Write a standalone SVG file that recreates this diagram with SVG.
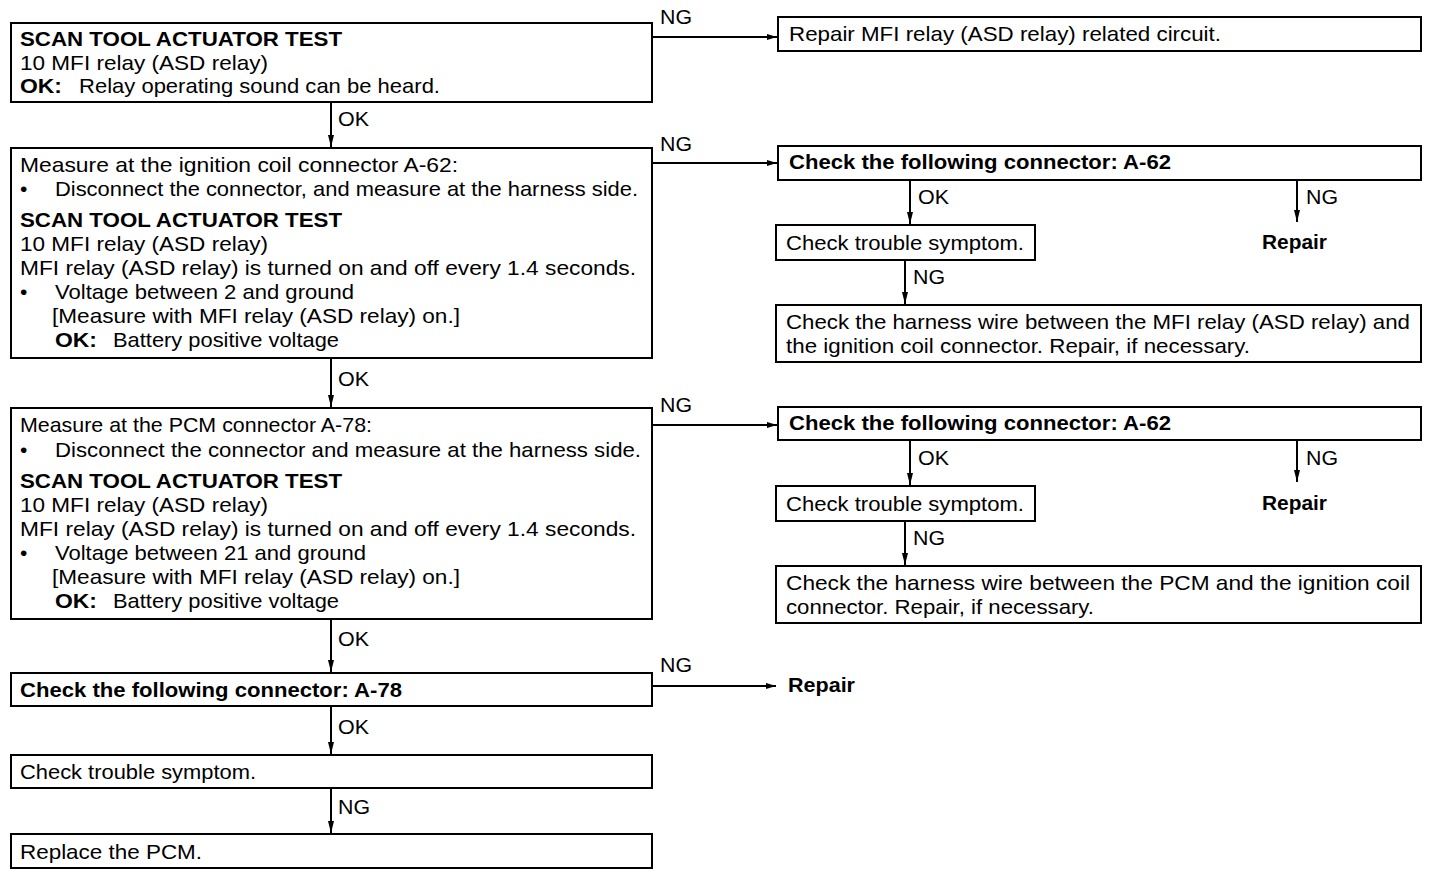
<svg xmlns="http://www.w3.org/2000/svg" width="1440" height="878" viewBox="0 0 1440 878">
<defs>
<marker id="ah" viewBox="0 0 10 6" refX="10" refY="3" markerWidth="10" markerHeight="6" markerUnits="userSpaceOnUse" orient="auto">
<path d="M0,0 L10,3 L0,6 Z" fill="#000"/>
</marker>
<marker id="av" viewBox="0 0 12 6" refX="12" refY="3" markerWidth="12" markerHeight="6" markerUnits="userSpaceOnUse" orient="auto">
<path d="M0,0 L12,3 L0,6 Z" fill="#000"/>
</marker>
</defs>
<style>
text{font-family:"Liberation Sans",Arial,sans-serif;font-size:21px;fill:#000}
.b{font-weight:bold}
.box{fill:#fff;stroke:#000;stroke-width:2}
.c line{stroke:#000;stroke-width:2}
.h{marker-end:url(#ah)}
.v{marker-end:url(#av)}
</style>
<rect width="1440" height="878" fill="#fff"/>

<g id="n1">
<rect class="box" x="11" y="23" width="641" height="79"/>
<text x="20" y="46" class="b" textLength="322" lengthAdjust="spacingAndGlyphs">SCAN TOOL ACTUATOR TEST</text>
<text x="20" y="70" textLength="248" lengthAdjust="spacingAndGlyphs">10 MFI relay (ASD relay)</text>
<text x="20" y="93" class="b" textLength="42" lengthAdjust="spacingAndGlyphs">OK:</text>
<text x="79" y="93" textLength="361" lengthAdjust="spacingAndGlyphs">Relay operating sound can be heard.</text>
</g>

<g id="n2">
<rect class="box" x="11" y="148" width="641" height="210"/>
<text x="20" y="172" textLength="438" lengthAdjust="spacingAndGlyphs">Measure at the ignition coil connector A-62:</text>
<text x="20" y="196">•</text><text x="55" y="196" textLength="583" lengthAdjust="spacingAndGlyphs">Disconnect the connector, and measure at the harness side.</text>
<text x="20" y="227" class="b" textLength="322" lengthAdjust="spacingAndGlyphs">SCAN TOOL ACTUATOR TEST</text>
<text x="20" y="251" textLength="248" lengthAdjust="spacingAndGlyphs">10 MFI relay (ASD relay)</text>
<text x="20" y="275" textLength="616" lengthAdjust="spacingAndGlyphs">MFI relay (ASD relay) is turned on and off every 1.4 seconds.</text>
<text x="20" y="299">•</text><text x="55" y="299" textLength="299" lengthAdjust="spacingAndGlyphs">Voltage between 2 and ground</text>
<text x="52" y="323" textLength="408" lengthAdjust="spacingAndGlyphs">[Measure with MFI relay (ASD relay) on.]</text>
<text x="55" y="347" class="b" textLength="42" lengthAdjust="spacingAndGlyphs">OK:</text>
<text x="113" y="347" textLength="226" lengthAdjust="spacingAndGlyphs">Battery positive voltage</text>
</g>

<g id="n3">
<rect class="box" x="11" y="408" width="641" height="211"/>
<text x="20" y="432" textLength="352" lengthAdjust="spacingAndGlyphs">Measure at the PCM connector A-78:</text>
<text x="20" y="457">•</text><text x="55" y="457" textLength="586" lengthAdjust="spacingAndGlyphs">Disconnect the connector and measure at the harness side.</text>
<text x="20" y="488" class="b" textLength="322" lengthAdjust="spacingAndGlyphs">SCAN TOOL ACTUATOR TEST</text>
<text x="20" y="512" textLength="248" lengthAdjust="spacingAndGlyphs">10 MFI relay (ASD relay)</text>
<text x="20" y="536" textLength="616" lengthAdjust="spacingAndGlyphs">MFI relay (ASD relay) is turned on and off every 1.4 seconds.</text>
<text x="20" y="560">•</text><text x="55" y="560" textLength="311" lengthAdjust="spacingAndGlyphs">Voltage between 21 and ground</text>
<text x="52" y="584" textLength="408" lengthAdjust="spacingAndGlyphs">[Measure with MFI relay (ASD relay) on.]</text>
<text x="55" y="608" class="b" textLength="42" lengthAdjust="spacingAndGlyphs">OK:</text>
<text x="113" y="608" textLength="226" lengthAdjust="spacingAndGlyphs">Battery positive voltage</text>
</g>

<g id="n4">
<rect class="box" x="11" y="673" width="641" height="33"/>
<text x="20" y="697" class="b" textLength="382" lengthAdjust="spacingAndGlyphs">Check the following connector: A-78</text>
</g>

<g id="n5">
<rect class="box" x="11" y="755" width="641" height="33"/>
<text x="20" y="779" textLength="236" lengthAdjust="spacingAndGlyphs">Check trouble symptom.</text>
</g>

<g id="n6">
<rect class="box" x="11" y="834" width="641" height="34"/>
<text x="20" y="859" textLength="182" lengthAdjust="spacingAndGlyphs">Replace the PCM.</text>
</g>

<g id="r1">
<rect class="box" x="778" y="17" width="643" height="34"/>
<text x="789" y="41" textLength="432" lengthAdjust="spacingAndGlyphs">Repair MFI relay (ASD relay) related circuit.</text>
</g>

<g id="r2a">
<rect class="box" x="778" y="146" width="643" height="34"/>
<text x="789" y="169" class="b" textLength="382" lengthAdjust="spacingAndGlyphs">Check the following connector: A-62</text>
</g>
<g id="r2b">
<rect class="box" x="776" y="225" width="259" height="35"/>
<text x="786" y="250" textLength="238" lengthAdjust="spacingAndGlyphs">Check trouble symptom.</text>
</g>
<g id="r2c"><text x="1262" y="249" class="b" textLength="65" lengthAdjust="spacingAndGlyphs">Repair</text></g>
<g id="r2d">
<rect class="box" x="776" y="305" width="645" height="57"/>
<text x="786" y="329" textLength="624" lengthAdjust="spacingAndGlyphs">Check the harness wire between the MFI relay (ASD relay) and</text>
<text x="786" y="353" textLength="464" lengthAdjust="spacingAndGlyphs">the ignition coil connector. Repair, if necessary.</text>
</g>

<g id="r3a">
<rect class="box" x="778" y="407" width="643" height="33"/>
<text x="789" y="430" class="b" textLength="382" lengthAdjust="spacingAndGlyphs">Check the following connector: A-62</text>
</g>
<g id="r3b">
<rect class="box" x="776" y="486" width="259" height="35"/>
<text x="786" y="511" textLength="238" lengthAdjust="spacingAndGlyphs">Check trouble symptom.</text>
</g>
<g id="r3c"><text x="1262" y="510" class="b" textLength="65" lengthAdjust="spacingAndGlyphs">Repair</text></g>
<g id="r3d">
<rect class="box" x="776" y="566" width="645" height="57"/>
<text x="786" y="590" textLength="624" lengthAdjust="spacingAndGlyphs">Check the harness wire between the PCM and the ignition coil</text>
<text x="786" y="614" textLength="308" lengthAdjust="spacingAndGlyphs">connector. Repair, if necessary.</text>
</g>

<g id="r4"><text x="788" y="692" class="b" textLength="67" lengthAdjust="spacingAndGlyphs">Repair</text></g>

<g id="connectors" class="c">
<line class="v" x1="331" y1="102" x2="331" y2="147"/>
<line class="v" x1="331" y1="358" x2="331" y2="407"/>
<line class="v" x1="331" y1="619" x2="331" y2="672"/>
<line class="v" x1="331" y1="706" x2="331" y2="754"/>
<line class="v" x1="331" y1="788" x2="331" y2="833"/>
<line class="h" x1="652" y1="37" x2="777" y2="37"/>
<line class="h" x1="652" y1="163" x2="777" y2="163"/>
<line class="h" x1="652" y1="425" x2="777" y2="425"/>
<line class="h" x1="652" y1="686" x2="776" y2="686"/>
<line class="v" x1="910" y1="180" x2="910" y2="224"/>
<line class="v" x1="1297" y1="180" x2="1297" y2="222"/>
<line class="v" x1="905" y1="260" x2="905" y2="304"/>
<line class="v" x1="910" y1="440" x2="910" y2="485"/>
<line class="v" x1="1297" y1="440" x2="1297" y2="482"/>
<line class="v" x1="905" y1="521" x2="905" y2="565"/>
<text x="338" y="126" textLength="31" lengthAdjust="spacingAndGlyphs">OK</text>
<text x="338" y="386" textLength="31" lengthAdjust="spacingAndGlyphs">OK</text>
<text x="338" y="646" textLength="31" lengthAdjust="spacingAndGlyphs">OK</text>
<text x="338" y="734" textLength="31" lengthAdjust="spacingAndGlyphs">OK</text>
<text x="338" y="814" textLength="32" lengthAdjust="spacingAndGlyphs">NG</text>
<text x="660" y="24" textLength="32" lengthAdjust="spacingAndGlyphs">NG</text>
<text x="660" y="151" textLength="32" lengthAdjust="spacingAndGlyphs">NG</text>
<text x="660" y="412" textLength="32" lengthAdjust="spacingAndGlyphs">NG</text>
<text x="660" y="672" textLength="32" lengthAdjust="spacingAndGlyphs">NG</text>
<text x="918" y="204" textLength="31" lengthAdjust="spacingAndGlyphs">OK</text>
<text x="1306" y="204" textLength="32" lengthAdjust="spacingAndGlyphs">NG</text>
<text x="913" y="284" textLength="32" lengthAdjust="spacingAndGlyphs">NG</text>
<text x="918" y="465" textLength="31" lengthAdjust="spacingAndGlyphs">OK</text>
<text x="1306" y="465" textLength="32" lengthAdjust="spacingAndGlyphs">NG</text>
<text x="913" y="545" textLength="32" lengthAdjust="spacingAndGlyphs">NG</text>
</g>
</svg>
